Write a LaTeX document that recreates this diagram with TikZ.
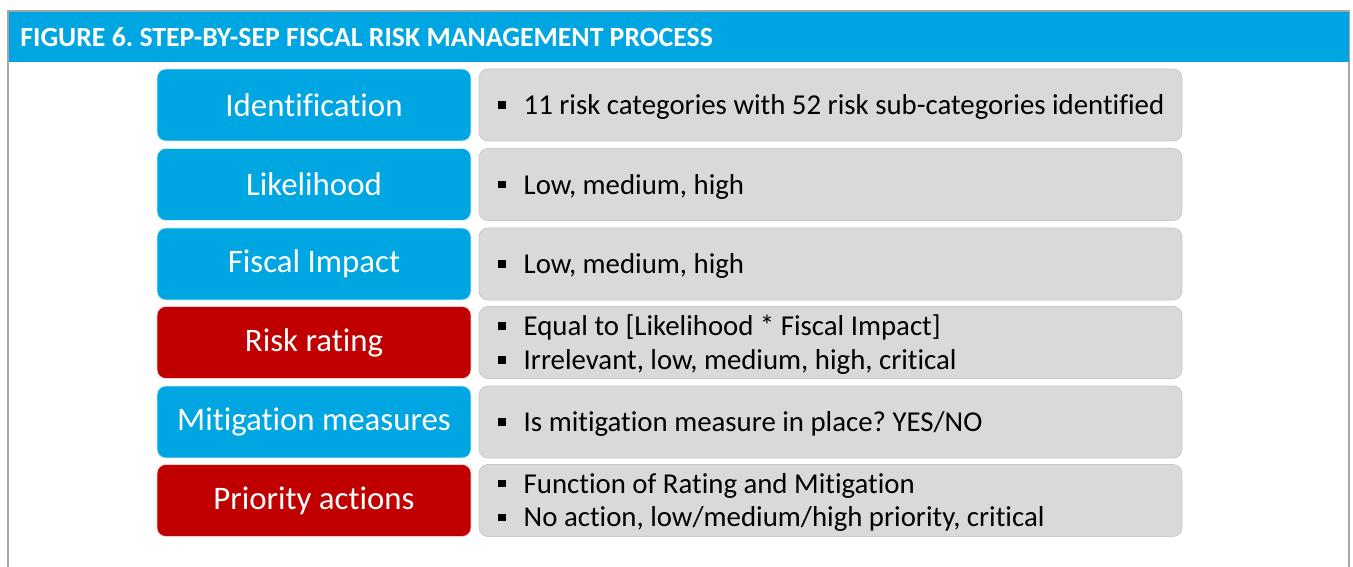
\documentclass[tikz,border=0pt]{standalone}
\usepackage{fontspec}
\setmainfont{Carlito}[Ligatures=NoCommon]
\definecolor{figblue}{HTML}{00A6E2}
\definecolor{figred}{HTML}{C00000}
\definecolor{figgray}{HTML}{D9D9D9}
\definecolor{framegray}{HTML}{A6A6A6}
\newcommand{\sqb}{\rule[0.2em]{0.26em}{0.26em}\hspace{0.62em}}
\frenchspacing

\begin{document}
\begin{tikzpicture}[x=0.02cm,y=-0.02cm]

    \tikzset{stepbox/.style={rounded corners=5pt,minimum width=6.28cm,minimum height=1.44cm,
        inner sep=0pt,text=white,font=\fontsize{18.7}{22}\selectfont,draw=white!80!figblue},
        bluestep/.style={stepbox,fill=figblue},
        redstep/.style={stepbox,fill=figred,draw=white!80!figred},
        infobox/.style={rounded corners=5pt,minimum width=14.06cm,minimum height=1.44cm,
        fill=figgray,draw=black!22,inner sep=0pt},
        infotext/.style={anchor=west,align=left,inner sep=0pt,
        font=\fontsize{16.4}{19.3}\selectfont}}
    \useasboundingbox (0,0) rectangle (1353,567);

    % frame and header
    \draw[framegray,line width=1.2pt] (8,567) -- (8,11) -- (1349,11) -- (1349,567);
    \node[fill=figblue,minimum width=26.8cm,minimum height=1cm,inner sep=0pt,anchor=north west]
        (head) at (9,12) {};
    \node[anchor=west,text=white,font=\bfseries\fontsize{15.8}{18}\selectfont,inner sep=0pt]
        (title) at (20,37) {FIGURE 6. STEP-BY-SEP FISCAL RISK MANAGEMENT PROCESS};

    % steps
    \node[bluestep] (ident) at (314,105) {Identification};
    \node[bluestep] (like) at (314,184.5) {Likelihood};
    \node[bluestep] (impact) at (314,264) {Fiscal Impact};
    \node[redstep] (rating) at (314,342.5) {Risk rating};
    \node[bluestep] (mitig) at (314,422) {Mitigation measures};
    \node[redstep] (prio) at (314,500.5) {Priority actions};

    % descriptions
    \node[infobox] (identd) at (830.5,105) {};
    \node[infobox] (liked) at (830.5,184.5) {};
    \node[infobox] (impactd) at (830.5,264) {};
    \node[infobox] (ratingd) at (830.5,342.5) {};
    \node[infobox] (mitigd) at (830.5,422) {};
    \node[infobox] (priod) at (830.5,500.5) {};

    \node[infotext] (identt) at (498,107) {\sqb 11 risk categories with 52 risk sub-categories identified};
    \node[infotext] (liket) at (498,186.5) {\sqb Low, medium, high};
    \node[infotext] (impactt) at (498,266) {\sqb Low, medium, high};
    \node[infotext] (ratingt) at (498,344.5) {\sqb Equal to [Likelihood * Fiscal Impact]\\
        \sqb Irrelevant, low, medium, high, critical};
    \node[infotext] (mitigt) at (498,424) {\sqb Is mitigation measure in place? YES/NO};
    \node[infotext] (priot) at (498,502.5) {\sqb Function of Rating and Mitigation\\
        \sqb No action, low/medium/high priority, critical};

\end{tikzpicture}
\end{document}
